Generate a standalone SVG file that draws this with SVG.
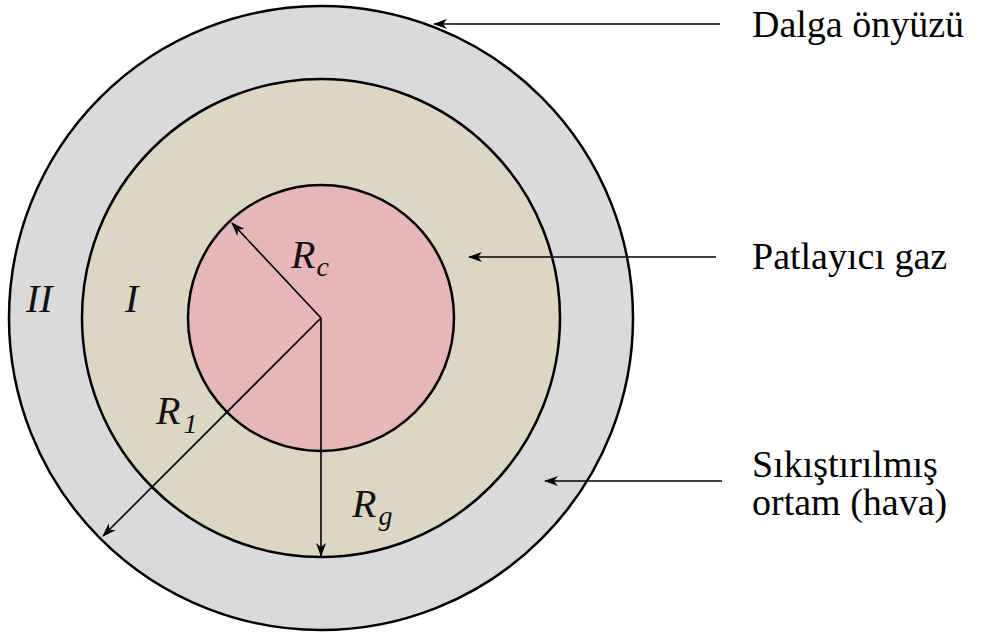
<svg xmlns="http://www.w3.org/2000/svg" width="982" height="633" viewBox="0 0 982 633">
<style>
.ring{stroke:#000;stroke-width:2.5}
.lbl{font-family:"Liberation Serif","Times New Roman",serif;font-size:38px;fill:#000}
.math{font-family:"Liberation Serif","Times New Roman",serif;font-style:italic;font-size:40px;fill:#111}
.sub{font-size:28px}
.conn{stroke:#000;stroke-width:1.6;fill:none;marker-end:url(#arr)}
</style>
<defs>
<marker id="arr" markerWidth="14" markerHeight="10" refX="13" refY="5" orient="auto" markerUnits="userSpaceOnUse">
<path d="M0,0 L14,5 L0,10 L4,5 Z" fill="#000"/>
</marker>
</defs>
<rect width="982" height="633" fill="#fff"/>
<g id="outer-zone">
<circle class="ring" cx="321" cy="318" r="312" fill="#dadadc"/>
</g>
<g id="gas-zone">
<circle class="ring" cx="321" cy="318" r="239" fill="#dcd7c2"/>
</g>
<g id="core">
<circle class="ring" cx="321" cy="318" r="133" fill="#e5b7b8"/>
</g>
<g id="connectors">
<line class="conn" x1="321" y1="318" x2="232" y2="223"/>
<line class="conn" x1="321" y1="318" x2="103" y2="536"/>
<line class="conn" x1="321" y1="318" x2="321" y2="556"/>
<line class="conn" x1="720" y1="24" x2="434" y2="24"/>
<line class="conn" x1="716" y1="257" x2="469" y2="257"/>
<line class="conn" x1="722" y1="481" x2="545" y2="481"/>
</g>
<g id="math-labels">
<text class="math" x="26" y="312">II</text>
<text class="math" x="125" y="312">I</text>
<text class="math" x="291" y="268">R<tspan class="sub" dx="1" dy="8">c</tspan></text>
<text class="math" x="156" y="424">R<tspan class="sub" dx="3" dy="9">1</tspan></text>
<text class="math" x="352" y="517">R<tspan class="sub" dx="2" dy="8">g</tspan></text>
</g>
<g id="label-wave-front">
<text class="lbl" x="752" y="37">Dalga önyüzü</text>
</g>
<g id="label-explosive-gas">
<text class="lbl" x="752" y="269">Patlayıcı gaz</text>
</g>
<g id="label-compressed">
<text class="lbl" x="752" y="477">Sıkıştırılmış</text>
<text class="lbl" x="752" y="515">ortam (hava)</text>
</g>
</svg>
